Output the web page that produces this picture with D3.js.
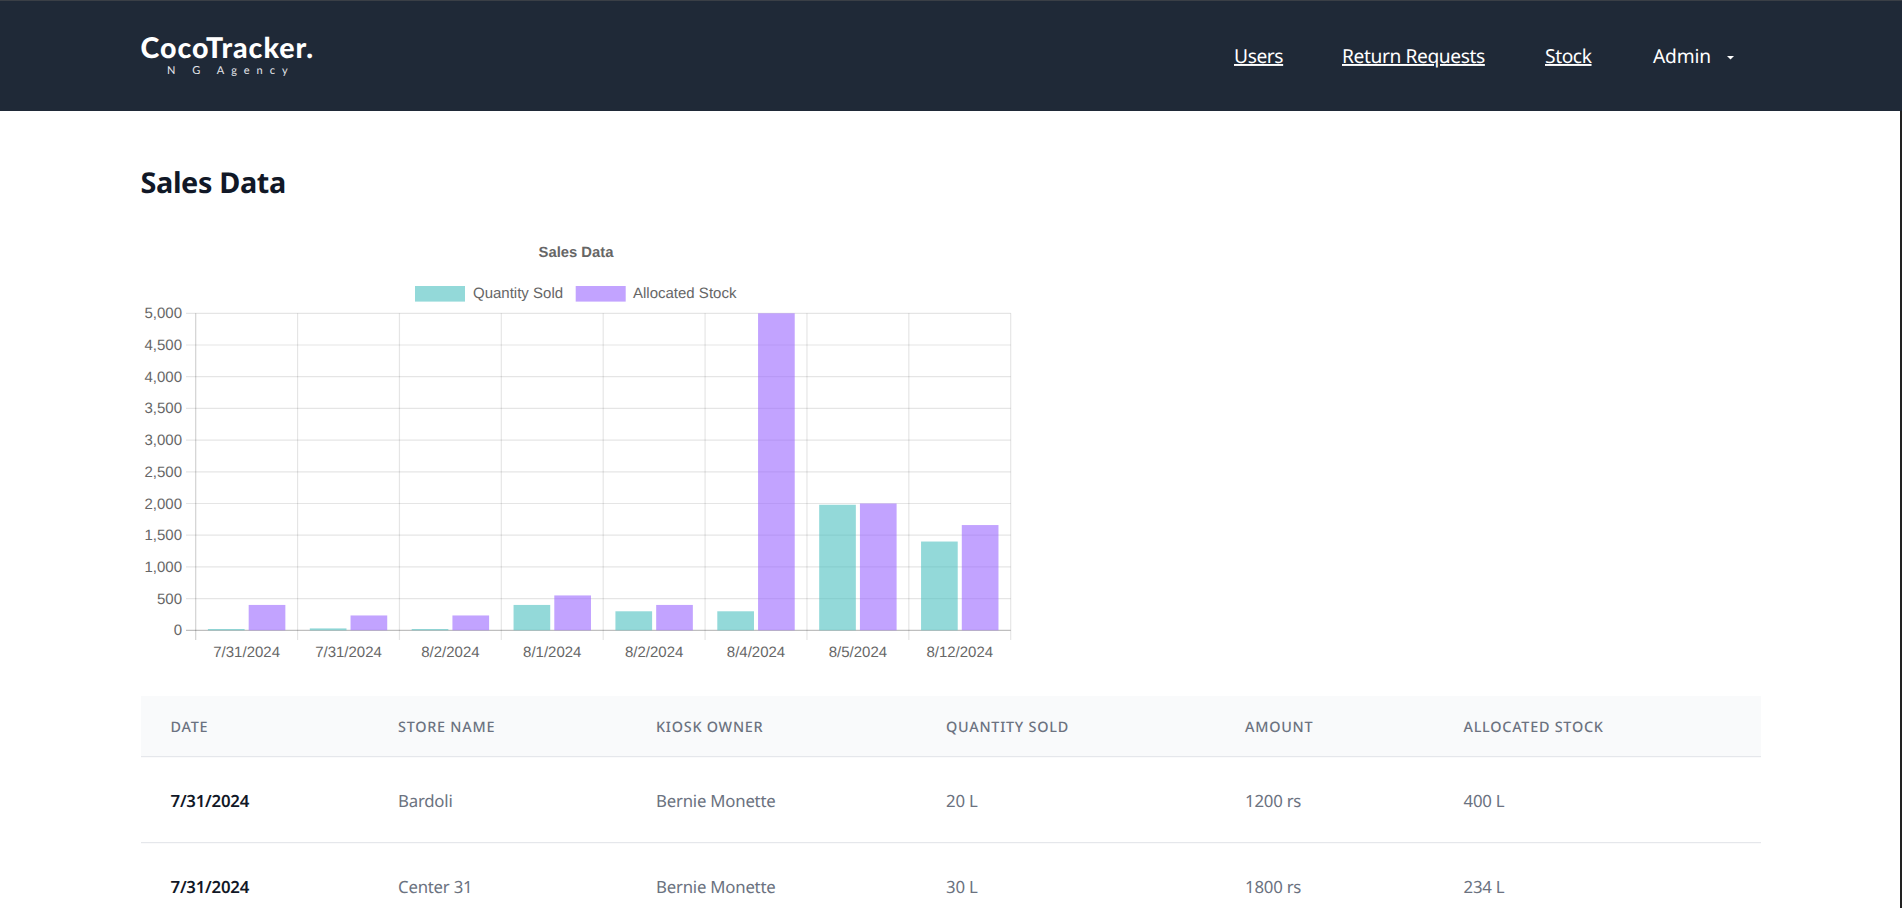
<!DOCTYPE html>
<html><head><meta charset="utf-8">
<script src="https://cdn.jsdelivr.net/npm/d3@7"></script>
<style>
html,body{margin:0;padding:0;background:#fff;overflow:hidden;width:1902px;height:908px}
svg{display:block;position:absolute;left:0;top:0}
text{text-rendering:geometricPrecision}
.ui{font-family:"Noto Sans",sans-serif}
.ct{font-family:"Liberation Sans",Arial,sans-serif;fill:#666;font-size:15px}
</style></head><body>
<svg id="page" width="1902" height="908"></svg>
<script>
const categories=["7/31/2024","7/31/2024","8/2/2024","8/1/2024","8/2/2024","8/4/2024","8/5/2024","8/12/2024"];
const quantitySold=[20,30,20,400,300,300,1980,1400];
const allocatedStock=[400,234,234,550,400,5000,2000,1660];
const seriesNames=["Quantity Sold","Allocated Stock"];
const seriesFill=["#4bc0c0","#9966ff"];
const yTicks=[0,500,1000,1500,2000,2500,3000,3500,4000,4500,5000];
const navItems=["Users","Return Requests","Stock"];
const navX=[1234,1342,1545];
const tableHead=["DATE","STORE NAME","KIOSK OWNER","QUANTITY SOLD","AMOUNT","ALLOCATED STOCK"];
const colX=[170.5,398,656,946,1245,1463.5];
const rows=[["7/31/2024","Bardoli","Bernie Monette","20 L","1200 rs","400 L"],
            ["7/31/2024","Center 31","Bernie Monette","30 L","1800 rs","234 L"]];

const svg=d3.select("#page");
// header
svg.append("rect").attr("x",0).attr("y",0).attr("width",1902).attr("height",111).attr("fill","#1f2937");
svg.append("rect").attr("x",0).attr("y",0).attr("width",1902).attr("height",1).attr("fill","#3a3f46");
svg.append("rect").attr("x",1900).attr("y",111).attr("width",2).attr("height",797).attr("fill","#222");
svg.append("text").attr("x",140.5).attr("y",58).attr("fill","#fff")
  .style("font-family","Lato,sans-serif").attr("font-weight",900).attr("font-size",28.5).attr("letter-spacing",1).text("CocoTracker.");
svg.append("text").attr("x",167).attr("y",74).attr("fill","#e5e7eb").style("font-family","Lato,sans-serif").attr("font-size",11).attr("letter-spacing",7).text("N G Agency");
navItems.forEach((t,i)=>{
  svg.append("text").attr("class","ui").attr("x",navX[i]).attr("y",63).attr("fill","#fff").attr("font-size",19.2).attr("letter-spacing",-0.4)
    .attr("text-decoration","underline").text(t);
});
svg.append("text").attr("class","ui").attr("x",1653).attr("y",63).attr("fill","#fff").attr("font-size",19.2).attr("letter-spacing",-0.2).text("Admin");
svg.append("path").attr("d",d3.line()([[1727,56],[1734,56],[1730.5,59.5]])).attr("fill","#fff");
svg.append("text").attr("class","ui").attr("x",140.5).attr("y",193).attr("fill","#111827").attr("font-size",28.8).attr("font-weight",700).attr("letter-spacing",-0.36).text("Sales Data");

// chart
const L=195.7,R=1010.7,T=313.3,B=630.3;
const x=d3.scaleBand().domain(d3.range(categories.length)).range([L,R]);
const inset=x.bandwidth()*0.1;
const xi=d3.scaleBand().domain([0,1]).range([inset,x.bandwidth()-inset]).paddingInner(0.1).paddingOuter(0.05);
const y=d3.scaleLinear().domain([0,5000]).range([B,T]);
const g=svg.append("g");
const gridCol="rgba(0,0,0,0.1)";
g.selectAll(".h").data(yTicks).join("line").attr("x1",186).attr("x2",R).attr("y1",d=>y(d)).attr("y2",d=>y(d))
  .attr("stroke",d=>d===0?"rgba(0,0,0,0.25)":gridCol).attr("stroke-width",1.2);
g.selectAll(".v").data(d3.range(categories.length+1)).join("line")
  .attr("x1",d=>L+d*x.step()).attr("x2",d=>L+d*x.step()).attr("y1",T).attr("y2",640)
  .attr("stroke",d=>d===0?"rgba(0,0,0,0.18)":gridCol).attr("stroke-width",1.2);
[quantitySold,allocatedStock].forEach((vals,s)=>{
  g.selectAll(".b"+s).data(vals).join("rect")
   .attr("x",(d,i)=>x(i)+xi(s)).attr("width",xi.bandwidth())
   .attr("y",d=>y(d)).attr("height",d=>B-y(d))
   .attr("fill",seriesFill[s]).attr("fill-opacity",0.6);
});
g.selectAll(".yl").data(yTicks).join("text").attr("class","ct").attr("x",182).attr("y",d=>y(d)+5).attr("text-anchor","end").text(d3.format(","));
g.selectAll(".xl").data(categories).join("text").attr("class","ct").attr("x",(d,i)=>x(i)+x.bandwidth()/2).attr("y",657).attr("text-anchor","middle").text(d=>d);
g.append("text").attr("class","ct").attr("x",576).attr("y",257).attr("text-anchor","middle").attr("font-weight",700).style("font-size","14.8px").text("Sales Data");
const legX=[415,575.7],legT=[473,633];
seriesNames.forEach((n,i)=>{
  g.append("rect").attr("x",legX[i]).attr("y",286).attr("width",50).attr("height",15.6).attr("fill",seriesFill[i]).attr("fill-opacity",0.6);
  g.append("text").attr("class","ct").attr("x",legT[i]).attr("y",298).text(n);
});

// table
svg.append("rect").attr("x",141).attr("y",696).attr("width",1620).attr("height",60).attr("fill","#f9fafb");
svg.append("rect").attr("x",141).attr("y",756).attr("width",1620).attr("height",1.2).attr("fill","#e5e7eb");
svg.append("rect").attr("x",141).attr("y",842).attr("width",1620).attr("height",1.2).attr("fill","#e5e7eb");
tableHead.forEach((t,i)=>{
  svg.append("text").attr("class","ui").attr("x",colX[i]).attr("y",732).attr("fill","#6b7280").attr("font-size",14.4).attr("font-weight",500).attr("letter-spacing",.75).text(t);
});
rows.forEach((r,ri)=>{
  r.forEach((t,i)=>{
    svg.append("text").attr("class","ui").attr("x",colX[i]).attr("y",806.7+ri*86).attr("fill",i===0?"#111827":"#6b7280").attr("font-size",16.8).attr("font-weight",i===0?600:400).attr("letter-spacing",-0.22).text(t);
  });
});
</script></body></html>
